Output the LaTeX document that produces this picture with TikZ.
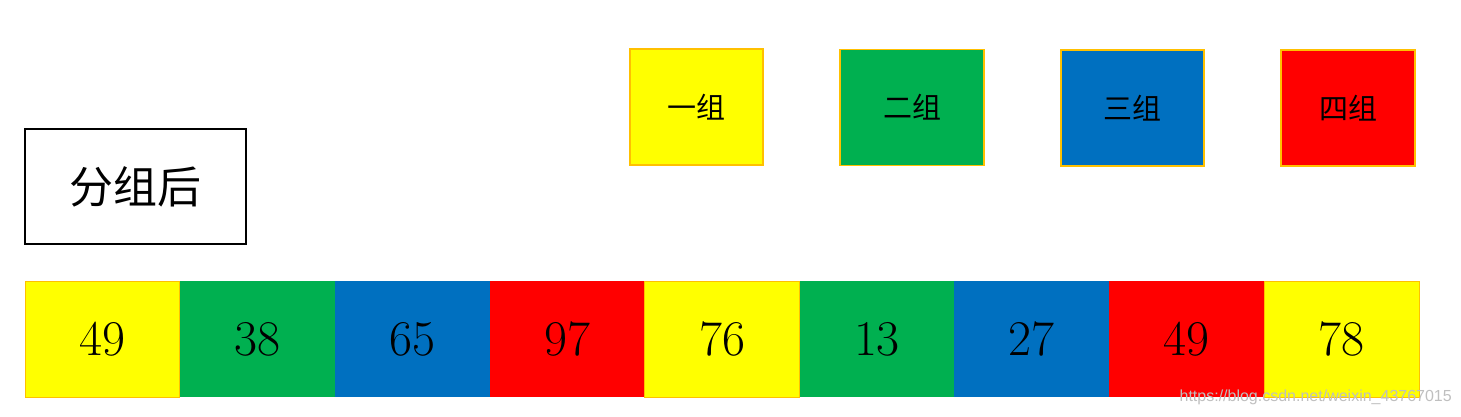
\documentclass[tikz,border=0pt]{standalone}
\usepackage{fontspec}
\newfontfamily\cjk{Noto Sans CJK SC}
\newfontfamily\wmfont{Liberation Sans}
\definecolor{cyel}{HTML}{FFFF00}
\definecolor{cgrn}{HTML}{00B050}
\definecolor{cblu}{HTML}{0070C0}
\definecolor{cred}{HTML}{FF0000}
\definecolor{cedge}{HTML}{FFC000}
\tikzset{
  cell/.style={minimum width=154.9pt, minimum height=116pt, inner sep=0pt, line width=1pt,
    font=\fontsize{50}{60}\selectfont},
  legend/.style={minimum height=116pt, inner sep=0pt, draw=cedge, line width=1.5pt,
    font=\cjk\fontsize{29}{34}\selectfont},
  titlebox/.style={draw=black, line width=1.5pt, minimum width=221pt, minimum height=115pt,
    inner sep=0pt, font=\cjk\fontsize{44}{52}\selectfont}
}
\begin{document}
\begin{tikzpicture}[x=1pt,y=1pt]
\useasboundingbox (0,0) rectangle (1461,416);
% title box
\node[titlebox] (title) at (135.5,229.5) {分组后};
% legend
\node[legend, fill=cyel, minimum width=133pt] (g1) at (696.5,309) {一组};
\node[legend, fill=cgrn, minimum width=144pt] (g2) at (912,308.5) {二组};
\node[legend, fill=cblu, minimum width=143pt] (g3) at (1132.5,308) {三组};
\node[legend, fill=cred, minimum width=134pt] (g4) at (1348,308) {四组};
% cells
\node[cell, fill=cyel, draw=cedge] (c1) at (102.45,77) {49};
\node[cell, fill=cgrn] (c2) at (257.35,77) {38};
\node[cell, fill=cblu] (c3) at (412.25,77) {65};
\node[cell, fill=cred] (c4) at (567.15,77) {97};
\node[cell, fill=cyel, draw=cedge] (c5) at (722.05,77) {76};
\node[cell, fill=cgrn] (c6) at (876.95,77) {13};
\node[cell, fill=cblu] (c7) at (1031.85,77) {27};
\node[cell, fill=cred] (c8) at (1186.75,77) {49};
\node[cell, fill=cyel, draw=cedge] (c9) at (1341.65,77) {78};
% watermark
\node[anchor=east, inner sep=0pt, text=black!25, font=\wmfont\fontsize{16}{18}\selectfont] (wm) at (1452,19) {https://blog.csdn.net/weixin\_43767015};
\end{tikzpicture}
\end{document}
